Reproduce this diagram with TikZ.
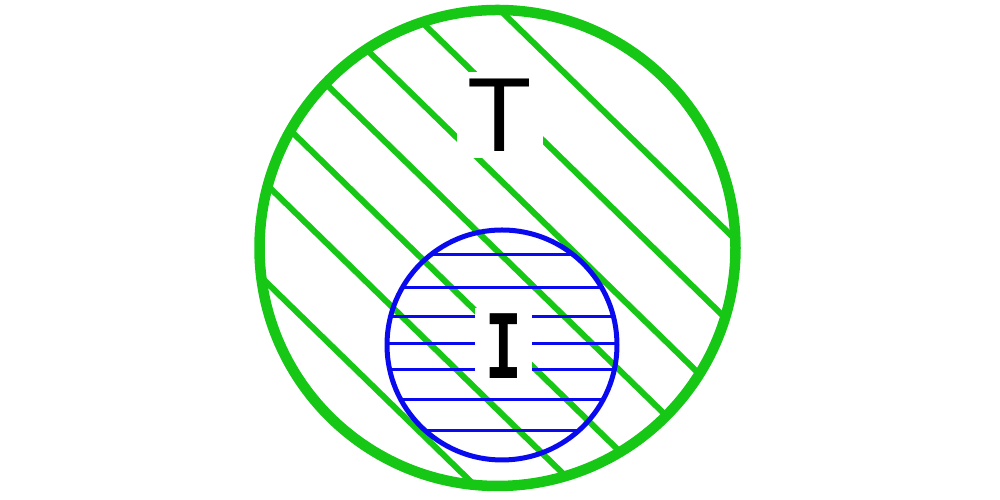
\documentclass[tikz,border=0pt]{standalone}
\usepackage{fontspec}
\setmainfont{Liberation Sans}
\newfontfamily\slabfont{Liberation Mono}
\usetikzlibrary{positioning}
\definecolor{vennGreen}{HTML}{16C716}
\definecolor{vennBlue}{HTML}{0A0AEE}
\tikzset{
  venn outer/.style={draw=vennGreen, line width=1.05mm},
  venn inner/.style={draw=vennBlue, line width=0.5mm},
  venn hatch outer/.style={draw=vennGreen, line width=0.6mm},
  venn hatch inner/.style={draw=vennBlue, line width=0.3mm},
  venn label/.style={fill=white, inner sep=0pt, text=black}
}
\begin{document}
\begin{tikzpicture}[x=0.1mm,y=-0.1mm]
  \useasboundingbox (0,0) rectangle (1000,500);
  \coordinate (Tc) at (497.5,248);
  \coordinate (Ic) at (502,345);
  \begin{scope}
    \clip (Tc) circle (238);
    \foreach \px/\py in {503/13,473/72,367/50,327/85,290/130,267/185,262/278}
      \draw[venn hatch outer] (\px-400,\py-390) -- (\px+400,\py+390);
  \end{scope}
  \begin{scope}
    \clip (Ic) circle (115);
    \foreach \ly in {255,288,317,344,370,400,431}
      \draw[venn hatch inner] (380,\ly) -- (625,\ly);
  \end{scope}
  \draw[venn inner] (Ic) circle (115);
  \draw[venn outer] (Tc) circle (238);
  \node[venn label, minimum width=8.6mm, minimum height=8.6mm,
    font=\fontsize{30}{30}\selectfont] (T) at (500,115) {T};
  \node[venn label, minimum width=5.7mm, minimum height=7.6mm,
    font=\fontsize{28}{28}\selectfont] (I) at (503.5,346) {\scalebox{0.62}[1]{\slabfont\bfseries I}};
\end{tikzpicture}
\end{document}
